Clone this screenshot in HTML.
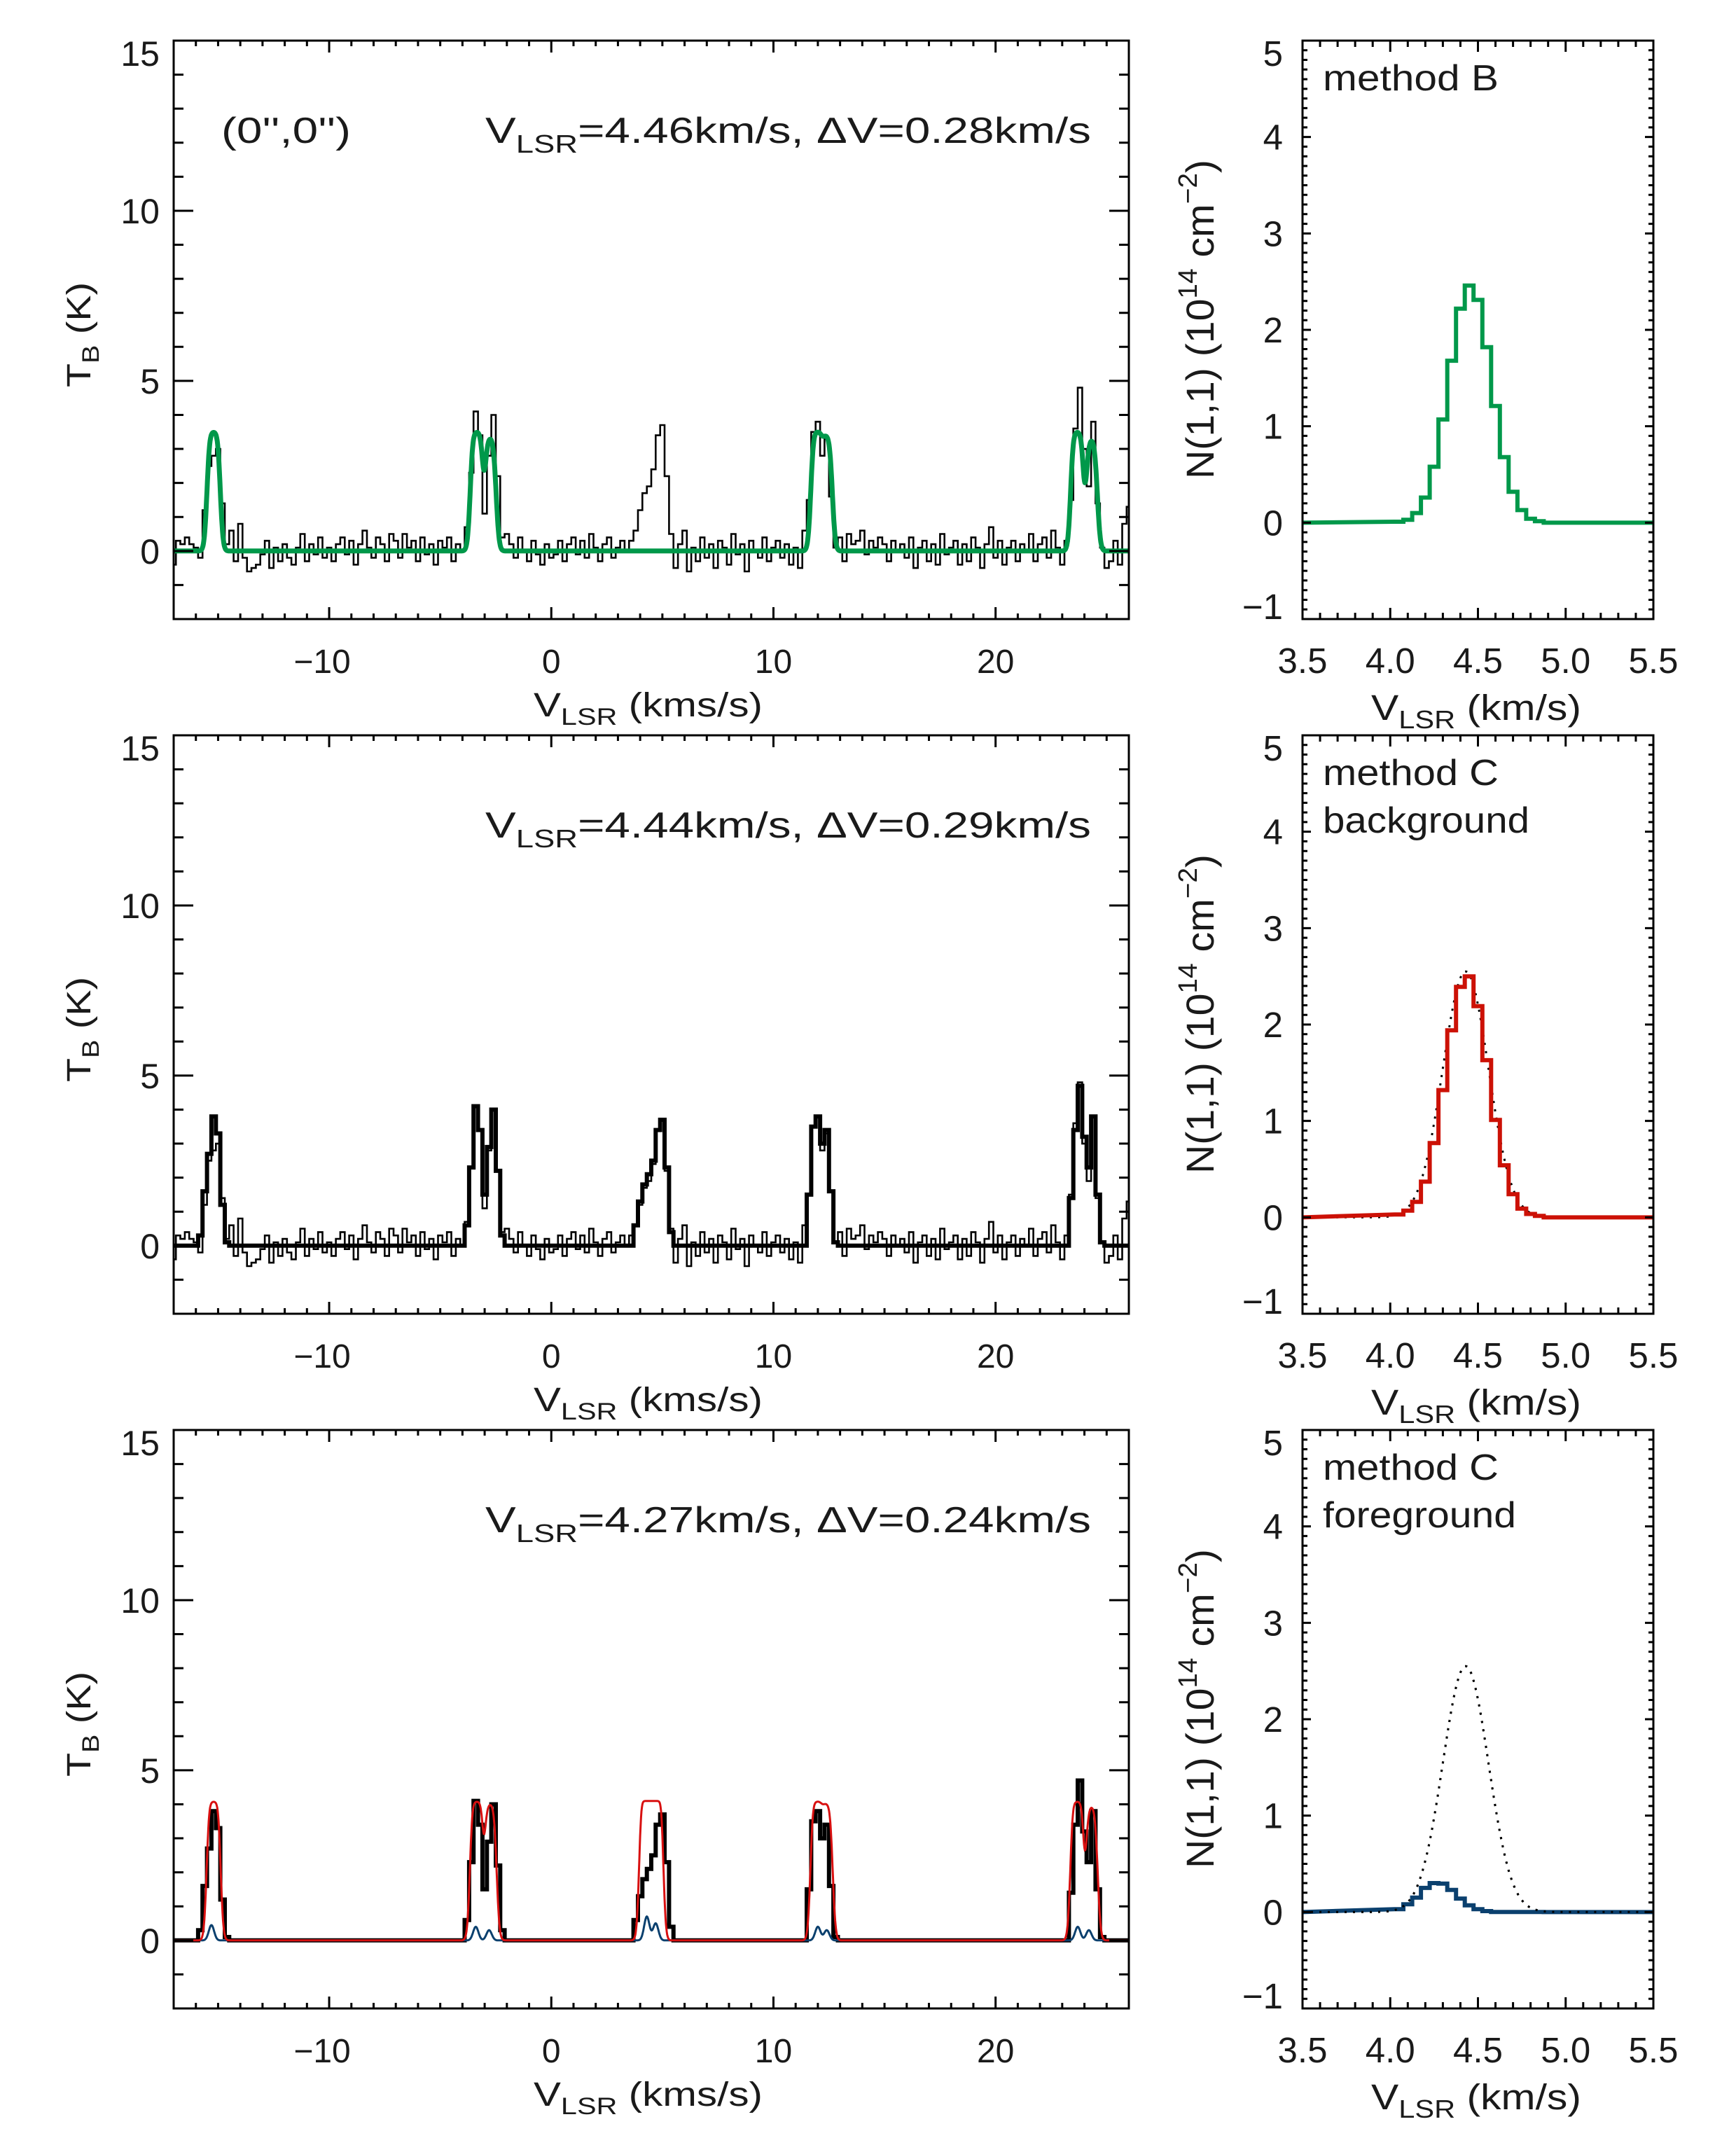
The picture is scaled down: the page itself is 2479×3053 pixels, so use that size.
<!DOCTYPE html>
<html><head><meta charset="utf-8"><title>NH3 spectra and column density</title>
<style>
html,body{margin:0;padding:0;background:#fff;}
svg{display:block;font-family:"Liberation Sans",sans-serif;}
text{fill:#1a1a1a;}
</style></head>
<body>
<svg id="fig" width="2479" height="3053" viewBox="0 0 2479 3053" xmlns="http://www.w3.org/2000/svg">
<rect x="0" y="0" width="2479" height="3053" fill="#fff"/>
</svg>
<script>
// ---------- data ----------
// observed spectrum: channels from -17.0 km/s, step 0.2 km/s
const specStart = -17.0;
const specStep = 0.2;
const specT = [
 -0.4, 0.3, 0.2, 0.4, 0.2, 0.1,
 -0.2, 1.2, 2.5, 2.8, 3.0, 1.4, 0.2,
 0.6, -0.3, 0.8, -0.2, -0.6, -0.5, -0.4, -0.1,
 0.3, -0.5, 0.1, -0.3, 0.2, -0.2, -0.4, 0.1, 0.5, -0.3, 0.2, -0.1, 0.4, -0.2, 0.1,
 -0.3, 0.2, 0.4, -0.1, 0.3, -0.4, 0.2, 0.6, 0.1, -0.2, 0.4, 0.2, -0.3, 0.5, 0.3,
 -0.2, 0.5, 0.1, 0.3, -0.3, 0.4, -0.1, 0.2, -0.4, 0.3, 0.1, 0.4, -0.3, 0.2, 0.0,
 0.7, 2.3, 4.1, 3.4, 1.1, 2.8, 4.0, 2.2, 0.4,
 0.5, 0.2, -0.2, 0.4, 0.0, -0.3, 0.3, -0.1, -0.4, 0.2, -0.2,
 -0.1, 0.3, -0.3, 0.2, 0.4, -0.1, 0.3, -0.2, 0.5, 0.1, -0.3, 0.2, 0.4, -0.2, 0.1, 0.3, 0.0, 0.3,
 0.6, 1.2, 1.7, 1.9, 2.4, 3.4, 3.7, 2.2, 0.5,
 -0.5, 0.2, 0.6, -0.6, 0.1, -0.3, 0.4, -0.2, 0.2, -0.5, 0.3, 0.1, -0.4, 0.5, -0.1, 0.2, -0.6, 0.3, 0.0, -0.2, 0.4, -0.3, 0.1, 0.3, -0.2, 0.2, -0.4, 0.1, -0.5, 0.6,
 1.5, 3.5, 3.8, 2.8, 3.3, 1.6, 0.1,
 0.4, -0.3, 0.5, 0.2, 0.3, 0.6, -0.1, 0.3, 0.1, 0.4,
 0.2, -0.3, 0.3, 0.0, 0.2, -0.2, 0.4, -0.5, 0.1, 0.3,
 -0.3, 0.2, -0.4, 0.5, -0.1, 0.1, 0.3, -0.4, 0.2, -0.3,
 0.4, 0.1, -0.5, 0.2, 0.7, -0.2, 0.3, -0.4, 0.1, 0.3,
 -0.3, 0.2, 0.0, 0.5, -0.3, 0.2, 0.4, -0.2, 0.6, 0.1,
 -0.4, 0.3,
 1.5, 3.6, 4.8, 3.0, 1.9, 3.8, 1.4, 0.1,
 -0.5, -0.3, 0.3, -0.4, 0.8, 1.3
];
// fitted model (thick black): segment start velocities and channel values
const fitSegStart = [-15.8, -3.8, 3.8, 11.6, 23.4];
const fitSegVals = [
 [0.3, 1.6, 2.7, 3.8, 3.3, 1.2, 0.1],
 [0.6, 2.3, 4.1, 3.4, 1.5, 2.9, 4.0, 2.2, 0.3],
 [0.6, 1.3, 1.8, 2.1, 2.5, 3.4, 3.7, 2.3, 0.4],
 [1.5, 3.5, 3.8, 3.0, 3.4, 1.6, 0.1],
 [1.4, 3.4, 4.7, 3.2, 2.3, 3.8, 1.5, 0.1]
];
// method B hyperfine fit (green)
const greenTex = 3.55;
const greenV = [-15.2, -3.35, -2.75, 11.98, 12.38, 23.68, 24.32];
const greenTau = [4.0, 4.0, 2.6, 4.0, 2.8, 4.0, 2.4];
// method C background (red)
const redTex = 4.1;
const redV = [-15.2, -3.35, -2.75, 4.3, 4.7, 11.98, 12.38, 23.68, 24.32];
const redTau = [5.0, 5.0, 3.5, 8.0, 8.0, 5.0, 3.5, 5.0, 3.0];
// method C foreground (blue)
const blueV = [-15.3, -3.4, -2.8, 4.3, 4.7, 12.0, 12.4, 23.7, 24.2];
const blueAmp = [0.45, 0.4, 0.3, 0.7, 0.5, 0.4, 0.3, 0.4, 0.3];
// column density histograms (bin centres km/s, N in 1e14 cm^-2)
const nBins = [4.05, 4.10, 4.15, 4.20, 4.25, 4.30, 4.35, 4.40, 4.45, 4.50, 4.55, 4.60, 4.65, 4.70, 4.75, 4.80, 4.85];
const nMethodB = [0.01, 0.03, 0.10, 0.26, 0.58, 1.07, 1.68, 2.22, 2.46, 2.31, 1.82, 1.21, 0.68, 0.32, 0.13, 0.04, 0.015];
const nBackground = [0.03, 0.07, 0.16, 0.37, 0.77, 1.32, 1.94, 2.39, 2.50, 2.19, 1.63, 1.01, 0.54, 0.24, 0.09, 0.035, 0.015];
const nForeground = [0.03, 0.08, 0.15, 0.25, 0.30, 0.295, 0.23, 0.14, 0.07, 0.03, 0.01, 0, 0, 0, 0, 0, 0];
const gaussRef = [2.55, 4.43, 0.13]; // peak, centre, sigma of dotted curve
// axis ticks / labels
const leftXTicks = [-10, 0, 10, 20];
const leftYTicks = [0, 5, 10, 15];
const rightXTicks = [3.5, 4.0, 4.5, 5.0, 5.5];
const rightYTicks = [-1, 0, 1, 2, 3, 4, 5];
const annotations = ["V|LSR|=4.46km/s,  ΔV=0.28km/s", "V|LSR|=4.44km/s,  ΔV=0.29km/s", "V|LSR|=4.27km/s,  ΔV=0.24km/s"];

// ---------- layout ----------
const NS = "http://www.w3.org/2000/svg";
const svg = document.getElementById("fig");
const PANEL_DY = 992, TOP0 = 58, BOX_H = 826;
const LX0 = 248, LX1 = 1612, RX0 = 1860, RX1 = 2361;
const LV0 = -17, LV1 = 26, LT0 = -2, LT1 = 15;
const RV0 = 3.5, RV1 = 5.5, RN0 = -1, RN1 = 5;
const SIG = 0.16, BSIG = 0.12;

function el(tag, attrs, parent) {
  const e = document.createElementNS(NS, tag);
  for (const k in attrs) e.setAttribute(k, attrs[k]);
  (parent || svg).appendChild(e);
  return e;
}
function fmt(v){ return (v < 0 ? "\u2212" : "") + Math.abs(v); }

function leftScales(k) {
  const t0 = TOP0 + k * PANEL_DY;
  return {
    x: v => LX0 + (v - LV0) / (LV1 - LV0) * (LX1 - LX0),
    y: t => t0 + (LT1 - t) / (LT1 - LT0) * BOX_H, top: t0, bot: t0 + BOX_H
  };
}
function rightScales(k) {
  const t0 = TOP0 + k * PANEL_DY;
  return {
    x: v => RX0 + (v - RV0) / (RV1 - RV0) * (RX1 - RX0),
    y: n => t0 + (RN1 - n) / (RN1 - RN0) * BOX_H, top: t0, bot: t0 + BOX_H
  };
}

function tauModel(v, tex, vs, taus) {
  let t = 0;
  for (let j = 0; j < vs.length; j++) { const dv = v - vs[j]; t += taus[j] * Math.exp(-dv * dv / (2 * SIG * SIG)); }
  return tex * (1 - Math.exp(-t));
}
function gaussSum(v, vs, amps) {
  let t = 0;
  for (let j = 0; j < vs.length; j++) { const dv = v - vs[j]; t += amps[j] * Math.exp(-dv * dv / (2 * BSIG * BSIG)); }
  return t;
}
function smoothPath(fn, sc) {
  let d = "";
  for (let v = LV0; v <= LV1 + 1e-9; v += 0.02) {
    d += (d ? "L" : "M") + sc.x(v).toFixed(1) + " " + sc.y(fn(v)).toFixed(1);
  }
  return d;
}
function stepPath(start, step, vals, sc) {
  let d = "";
  for (let i = 0; i < vals.length; i++) {
    const v = start + i * step;
    const xa = sc.x(Math.max(LV0, v - step / 2)), xb = sc.x(Math.min(LV1, v + step / 2)), y = sc.y(vals[i]);
    d += (d ? "L" : "M") + xa.toFixed(1) + " " + y.toFixed(1) + "L" + xb.toFixed(1) + " " + y.toFixed(1);
  }
  return d;
}
function fitPath(sc) {
  const chan = [];
  const n = Math.round((LV1 - LV0) / specStep) + 1;
  for (let i = 0; i < n; i++) chan.push(0);
  fitSegStart.forEach((s, j) => {
    const i0 = Math.round((s - LV0) / specStep);
    fitSegVals[j].forEach((val, m) => { chan[i0 + m] = val; });
  });
  return stepPath(LV0, specStep, chan, sc);
}
function histPath(vals, sc) {
  let d = "M" + sc.x(RV0) + " " + sc.y(0);
  for (let i = 0; i < nBins.length; i++) {
    const xa = sc.x(nBins[i] - 0.025), xb = sc.x(nBins[i] + 0.025), y = sc.y(vals[i]);
    d += "L" + xa.toFixed(1) + " " + y.toFixed(1) + "L" + xb.toFixed(1) + " " + y.toFixed(1);
  }
  d += "L" + sc.x(nBins[nBins.length - 1] + 0.025).toFixed(1) + " " + sc.y(0) + "L" + sc.x(RV1) + " " + sc.y(0);
  return d;
}
function gaussPath(sc) {
  let d = "";
  for (let v = RV0; v <= RV1 + 1e-9; v += 0.005) {
    const dv = v - gaussRef[1];
    const n = gaussRef[0] * Math.exp(-dv * dv / (2 * gaussRef[2] * gaussRef[2]));
    d += (d ? "L" : "M") + sc.x(v).toFixed(1) + " " + sc.y(n).toFixed(1);
  }
  return d;
}

const defsEl = el("defs", {});
for (let k = 0; k < 3; k++) {
  const t0 = TOP0 + k * PANEL_DY;
  const c1 = el("clipPath", { id: "clipL" + k }, defsEl);
  el("rect", { x: LX0, y: t0, width: LX1 - LX0, height: BOX_H }, c1);
  const c2 = el("clipPath", { id: "clipR" + k }, defsEl);
  el("rect", { x: RX0, y: t0, width: RX1 - RX0, height: BOX_H }, c2);
}

function leftPanel(k) {
  const sc = leftScales(k);
  const g = el("g", {});
  
  
  const data = el("g", { "clip-path": "url(#clipL" + k + ")" }, g);
  if (k < 2) {
    const sp = el("path", { d: stepPath(specStart, specStep, specT, sc), fill: "none", stroke: "#000", "stroke-width": 2.6 }, data);
    
    
  }
  if (k === 0) {
    const gp = el("path", { d: smoothPath(v => tauModel(v, greenTex, greenV, greenTau), sc), fill: "none", stroke: "#00984a", "stroke-width": 7, "stroke-linejoin": "round" }, data);
    
    
  } else {
    const fp = el("path", { d: fitPath(sc), fill: "none", stroke: "#000", "stroke-width": 6 }, data);
    
    
  }
  if (k === 2) {
    const bp = el("path", { d: smoothPath(v => gaussSum(v, blueV, blueAmp), sc), fill: "none", stroke: "#0b406e", "stroke-width": 3 }, data);
    
    
    const rp = el("path", { d: smoothPath(v => tauModel(v, redTex, redV, redTau), sc), fill: "none", stroke: "#d81010", "stroke-width": 3 }, data);
    
    
  }
  const box = el("rect", { x: LX0, y: sc.top, width: LX1 - LX0, height: BOX_H, fill: "none", stroke: "#000", "stroke-width": 3 }, g);
  
  
  let d = "";
  for (let v = LV0; v <= LV1; v++) {
    const L = (v % 10 === 0) ? 17 : 8, x = sc.x(v);
    d += `M${x} ${sc.bot}v${-L}M${x} ${sc.top}v${L}`;
  }
  for (let t = LT0; t <= LT1; t++) {
    const L = (t % 5 === 0) ? 28 : 14, y = sc.y(t);
    d += `M${LX0} ${y}h${L}M${LX1} ${y}h${-L}`;
  }
  const tk = el("path", { d: d, stroke: "#000", "stroke-width": 3, fill: "none" }, g);
  
  
  leftXTicks.forEach(v => {
    const t = el("text", { x: sc.x(v) - (v < 0 ? 10 : 0), y: sc.bot + 77, "font-size": 48, "text-anchor": "middle" }, g);
    t.textContent = fmt(v);
    
    
  });
  leftYTicks.forEach(v => {
    const yy = (v === LT1) ? sc.top + 36 : sc.y(v) + 18;
    const t = el("text", { x: 228, y: yy, "font-size": 50, "text-anchor": "end" }, g);
    t.textContent = fmt(v);
    
    
  });
  const xt = el("text", { x: 762, y: sc.bot + 139, "font-size": 48, textLength: 327, lengthAdjust: "spacingAndGlyphs" }, g);
  xt.innerHTML = 'V<tspan font-size="34" dy="12">LSR</tspan><tspan dy="-12">  (kms/s)</tspan>';
  
  
  const cy = sc.top + 420;
  const yt = el("text", { x: 0, y: 0, "font-size": 48, "text-anchor": "middle", transform: `translate(129 ${cy}) rotate(-90)`, textLength: 150, lengthAdjust: "spacingAndGlyphs" }, g);
  yt.innerHTML = 'T<tspan font-size="34" dy="12">B</tspan><tspan dy="-12">  (K)</tspan>';
  
  
  const parts = annotations[k].split("|");
  const an = el("text", { x: 693, y: sc.top + 146, "font-size": 52, textLength: 865, lengthAdjust: "spacingAndGlyphs" }, g);
  an.innerHTML = parts[0] + '<tspan font-size="36" dy="14">' + parts[1] + '</tspan><tspan dy="-14">' + parts[2] + '</tspan>';
  
  
  if (k === 0) {
    const pos = el("text", { x: 316, y: sc.top + 146, "font-size": 52, textLength: 185, lengthAdjust: "spacingAndGlyphs" }, g);
    pos.textContent = "(0'',0'')";
    
    
  }
}

function rightPanel(k) {
  const sc = rightScales(k);
  const g = el("g", {});
  
  
  const data = el("g", { "clip-path": "url(#clipR" + k + ")" }, g);
  if (k > 0) {
    const gp = el("path", { d: gaussPath(sc), fill: "none", stroke: "#000", "stroke-width": 3, "stroke-dasharray": "3 9" }, data);
    
    
  }
  const vals = [nMethodB, nBackground, nForeground][k];
  const col = ["#00984a", "#cc1106", "#0b406e"][k];
  const hp = el("path", { d: histPath(vals, sc), fill: "none", stroke: col, "stroke-width": 6 }, data);
  
  
  if (k === 2) {
    const gp2 = el("path", { d: gaussPath(sc), fill: "none", stroke: "#000", "stroke-width": 3, "stroke-dasharray": "3 9" }, data);
    
    
  }
  const box = el("rect", { x: RX0, y: sc.top, width: RX1 - RX0, height: BOX_H, fill: "none", stroke: "#000", "stroke-width": 3 }, g);
  
  
  let d = "";
  for (let i = 0; i <= 20; i++) {
    const v = RV0 + i * 0.1, L = (i % 5 === 0) ? 16 : 9, x = sc.x(v);
    d += `M${x} ${sc.bot}v${-L}M${x} ${sc.top}v${L}`;
  }
  for (let i = 0; i <= 60; i++) {
    const n = RN0 + i * 0.1, L = (i % 10 === 0) ? 12 : 7, y = sc.y(n);
    d += `M${RX0} ${y}h${L}M${RX1} ${y}h${-L}`;
  }
  const tk = el("path", { d: d, stroke: "#000", "stroke-width": 3, fill: "none" }, g);
  
  
  rightXTicks.forEach(v => {
    const t = el("text", { x: sc.x(v), y: sc.bot + 77, "font-size": 51, "text-anchor": "middle" }, g);
    t.textContent = v.toFixed(1);
    
    
  });
  rightYTicks.forEach(v => {
    let yy = sc.y(v) + 18;
    if (v === RN1) yy = sc.top + 36;
    if (v === RN0) yy = sc.bot;
    const t = el("text", { x: 1832, y: yy, "font-size": 51, "text-anchor": "end" }, g);
    t.textContent = fmt(v);
    
    
  });
  const xt = el("text", { x: 1958, y: sc.bot + 144, "font-size": 51, textLength: 300, lengthAdjust: "spacingAndGlyphs" }, g);
  xt.innerHTML = 'V<tspan font-size="36" dy="12">LSR</tspan><tspan dy="-12">  (km/s)</tspan>';
  
  
  const cy = sc.top + 398;
  const yt = el("text", { x: 0, y: 0, "font-size": 56, "text-anchor": "middle", transform: `translate(1733 ${cy}) rotate(-90)`, textLength: 456, lengthAdjust: "spacingAndGlyphs" }, g);
  yt.innerHTML = 'N(1,1)  (10<tspan font-size="38" dy="-24">14</tspan><tspan dy="24"> cm</tspan><tspan font-size="38" dy="-24">\u22122</tspan><tspan dy="24">)</tspan>';
  
  
  const l1 = el("text", { x: 1889, y: sc.top + 71, "font-size": 52, textLength: 251, lengthAdjust: "spacingAndGlyphs" }, g);
  l1.textContent = k === 0 ? "method  B" : "method  C";
  
  
  if (k > 0) {
    const l2 = el("text", { x: 1889, y: sc.top + 139, "font-size": 52, textLength: k === 1 ? 295 : 276, lengthAdjust: "spacingAndGlyphs" }, g);
    l2.textContent = k === 1 ? "background" : "foreground";
    
    
  }
}

for (let k = 0; k < 3; k++) { leftPanel(k); rightPanel(k); }
</script>
</body></html>
